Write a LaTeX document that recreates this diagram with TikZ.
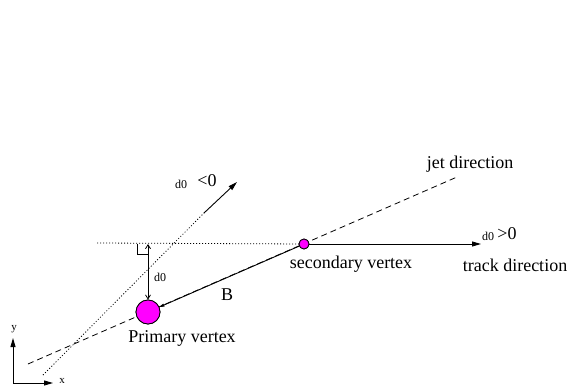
\documentclass[tikz,border=0pt]{standalone}
\usepackage{fontspec}
\setmainfont{Liberation Serif}
\usetikzlibrary{arrows.meta}
\definecolor{vmag}{RGB}{255,0,255}
\tikzset{
  big/.style={font=\fontsize{18}{20}\selectfont, inner sep=0pt},
  small/.style={font=\fontsize{12}{14}\selectfont, inner sep=0pt},
  tiny/.style={font=\fontsize{11}{13}\selectfont, inner sep=0pt},
  vertex/.style={circle, draw=black, fill=vmag, line width=0.8pt, inner sep=0pt},
  dotline/.style={line width=0.8pt, dash pattern=on 1pt off 2pt},
  dashline/.style={line width=0.8pt, dash pattern=on 6pt off 4pt},
  arr/.style={line width=0.9pt, -{Triangle[length=9pt,width=5pt]}},
  barb/.style={line width=0.8pt, {Straight Barb[length=4pt,width=5pt]}-{Straight Barb[length=4pt,width=5pt]}},
}
\begin{document}
\begin{tikzpicture}[x=1pt,y=-1pt]
\useasboundingbox (0,0) rectangle (577,387);
% coordinates
\coordinate (jetA) at (28,364);
\coordinate (jetB) at (457,177);
\coordinate (dA) at (43,375);
\coordinate (dB) at (204,213);
\coordinate (dTip) at (237,182);
\coordinate (hA) at (97,243);
\coordinate (tTip) at (481,244);
\coordinate (foot) at (148,244);
\coordinate (raA) at (137,244);
\coordinate (raB) at (137,254);
\coordinate (raC) at (148,254);
\coordinate (orig) at (13,383);
\coordinate (yTip) at (13,338);
\coordinate (xTip) at (53,383);
% vertices (placed first, redrawn later on top)
\node[vertex, minimum size=24pt] (PV) at (148,312) {};
\node[vertex, minimum size=10pt] (SV) at (304,244) {};
% jet direction
\draw[dashline] (jetA) -- (jetB);
% dotted track extrapolations
\draw[dotline] (dA) -- (dB);
\draw[arr] (dB) -- (dTip);
\draw[dotline] (hA) -- (SV.center);
\draw[arr] (SV.center) -- (tTip);
% B flight
\draw[line width=0.9pt, -{Triangle[length=5pt,width=3pt]}] (SV.center) -- (PV);
% d0 arrow and right angle
\draw[barb] (foot) -- (PV.north);
\draw[line width=0.8pt] (raA) -- (raB) -- (raC);
% axes
\draw[arr] (orig) -- (yTip);
\draw[arr] (orig) -- (xTip);
% vertices on top
\node[vertex, minimum size=24pt] at (PV.center) {};
\node[vertex, minimum size=10pt] at (SV.center) {};
% labels
\node[small] (dneg) at (181,184) {d0};
\node[big] (neg) at (207,181) {<0};
\node[small] (dlab) at (160,277) {d0};
\node[big] (B) at (227,295) {B};
\node[big] (pvl) at (182,338) {Primary vertex};
\node[big] (svl) at (351,264) {secondary vertex};
\node[big] (jetl) at (470,164) {jet direction};
\node[small] (dpos) at (488,236) {d0};
\node[big] (pos) at (507,234) {>0};
\node[big] (trl) at (515,265) {track direction};
\node[tiny] (yl) at (14,329) {y};
\node[tiny] (xl) at (62,381) {x};
\end{tikzpicture}
\end{document}
